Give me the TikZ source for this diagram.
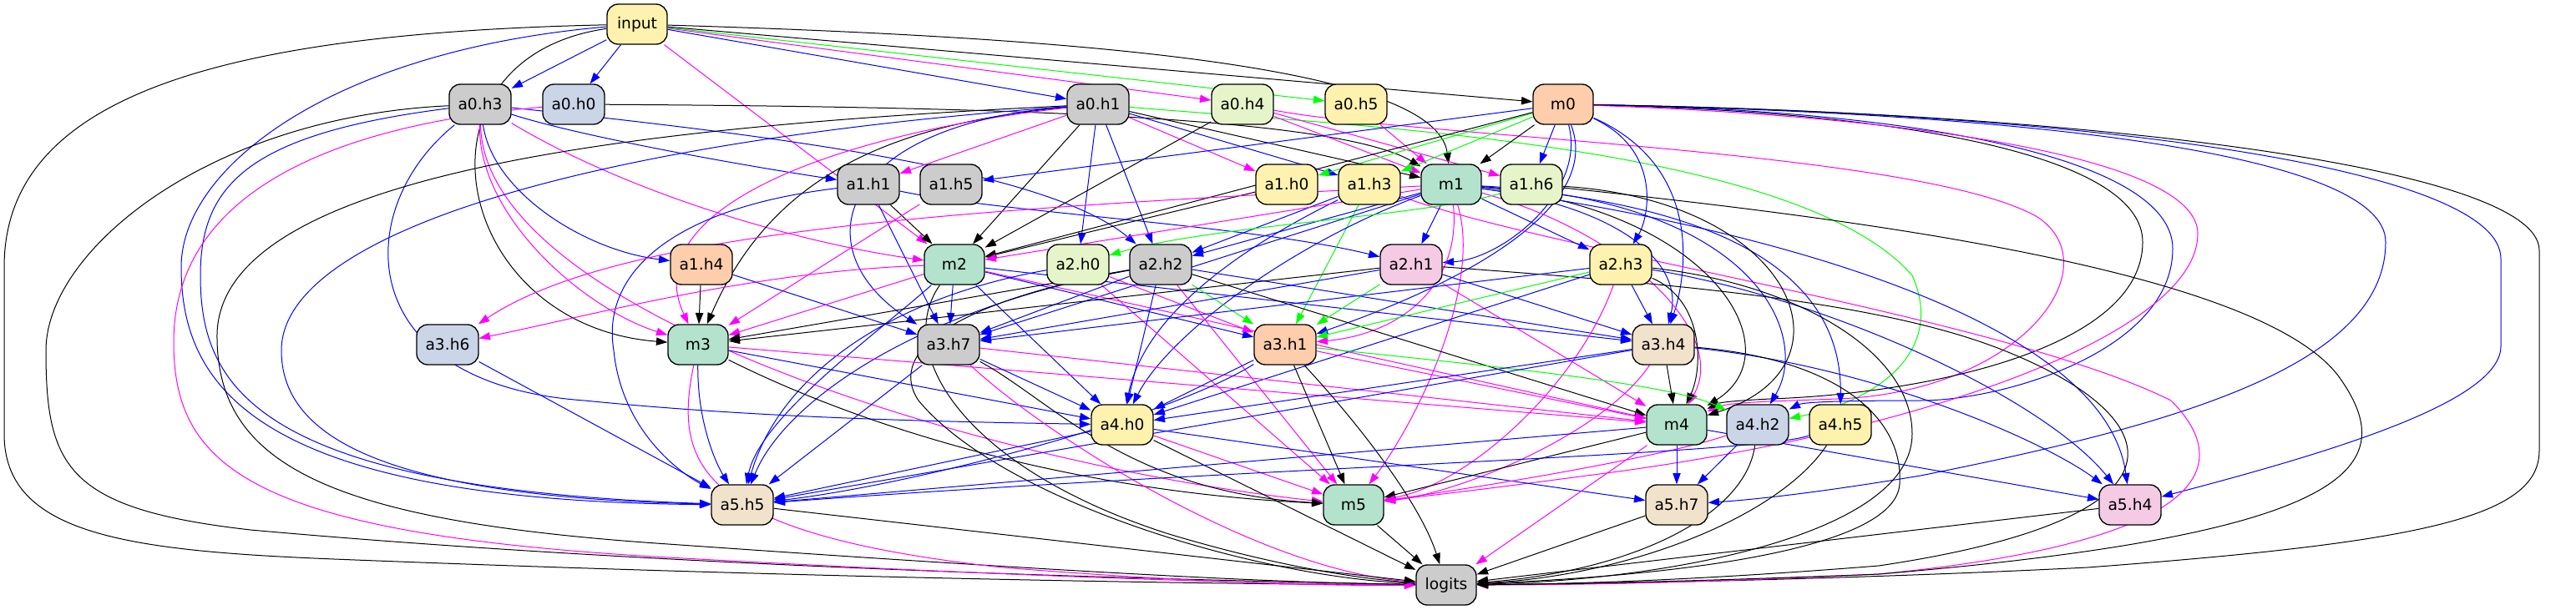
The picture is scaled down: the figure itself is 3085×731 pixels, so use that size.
\documentclass[tikz,border=0pt]{standalone}
\usepackage{fontspec}
\setmainfont{DejaVu Sans}
\usetikzlibrary{arrows.meta}
\pgfdeclarelayer{bg}
\pgfsetlayers{bg,main}
\definecolor{cgrey}{HTML}{CCCCCC}
\definecolor{cgreen}{HTML}{B3E2CD}
\definecolor{corange}{HTML}{FDCDAC}
\definecolor{cblue}{HTML}{CBD5E8}
\definecolor{cpink}{HTML}{F4CAE4}
\definecolor{clgreen}{HTML}{E6F5C9}
\definecolor{cyellow}{HTML}{FFF2AE}
\definecolor{cbeige}{HTML}{F1E2CC}
\definecolor{eblue}{HTML}{0000FF}
\definecolor{emag}{HTML}{FF00FF}
\definecolor{egreen}{HTML}{00FF00}
\tikzset{
  nd/.style={draw=black, line width=1pt, rounded corners=10pt, minimum width=54pt,
    minimum height=36pt, inner xsep=7.9pt, inner ysep=0pt, font=\fontsize{14}{16}\selectfont},
  edge/.style={line width=0.75pt, -{Triangle[length=10pt,width=7pt]}},
  ek/.style={edge, draw=black},
  eb/.style={edge, draw=eblue},
  em/.style={edge, draw=emag},
  eg/.style={edge, draw=egreen},
}
\begin{document}
\begin{tikzpicture}[x=0.75pt,y=-0.75pt]
\useasboundingbox (0,0) rectangle (3085,731);
% nodes
\node[nd, fill=cyellow] (input) at (763,29) {input};
\node[nd, fill=cgrey] (a03) at (575,125) {a0.h3};
\node[nd, fill=cblue] (a00) at (687,125) {a0.h0};
\node[nd, fill=cgrey] (a01) at (1315,125) {a0.h1};
\node[nd, fill=clgreen] (a04) at (1488,125) {a0.h4};
\node[nd, fill=cyellow] (a05) at (1624,125) {a0.h5};
\node[nd, fill=corange] (m0) at (1872,125) {m0};
\node[nd, fill=cgrey] (a11) at (1040,221) {a1.h1};
\node[nd, fill=cgrey] (a15) at (1139,221) {a1.h5};
\node[nd, fill=cyellow] (a10) at (1541,221) {a1.h0};
\node[nd, fill=cyellow] (a13) at (1640,221) {a1.h3};
\node[nd, fill=cgreen] (m1) at (1738,221) {m1};
\node[nd, fill=clgreen] (a16) at (1834,221) {a1.h6};
\node[nd, fill=corange] (a14) at (840,317) {a1.h4};
\node[nd, fill=cgreen] (m2) at (1143,317) {m2};
\node[nd, fill=clgreen] (a20) at (1291,317) {a2.h0};
\node[nd, fill=cgrey] (a22) at (1390,317) {a2.h2};
\node[nd, fill=cpink] (a21) at (1690,317) {a2.h1};
\node[nd, fill=cyellow] (a23) at (1941,317) {a2.h3};
\node[nd, fill=cblue] (a36) at (536,413) {a3.h6};
\node[nd, fill=cgreen] (m3) at (836,413) {m3};
\node[nd, fill=cgrey] (a37) at (1136,413) {a3.h7};
\node[nd, fill=corange] (a31) at (1539,413) {a3.h1};
\node[nd, fill=cbeige] (a34) at (1992,413) {a3.h4};
\node[nd, fill=cyellow] (a40) at (1344,509) {a4.h0};
\node[nd, fill=cgreen] (m4) at (2008,509) {m4};
\node[nd, fill=cblue] (a42) at (2105,509) {a4.h2};
\node[nd, fill=cyellow] (a45) at (2204,509) {a4.h5};
\node[nd, fill=cbeige] (a55) at (889,605) {a5.h5};
\node[nd, fill=cgreen] (m5) at (1621,605) {m5};
\node[nd, fill=cbeige] (a57) at (2008,605) {a5.h7};
\node[nd, fill=cpink] (a54) at (2551,605) {a5.h4};
\node[nd, fill=cgrey] (logits) at (1732,701) {logits};

\begin{pgfonlayer}{bg}
\fill[white] (0,0) rectangle (3085,731);
% input
\draw[eb] (input) -- (a03);
\draw[eb] (input) -- (a00);
\draw[eb] (input) -- (a01);
\draw[em] (input) -- (a04);
\draw[eg] (input) -- (a05);
\draw[ek] (input) -- (m0);
\draw[ek] (input) .. controls (1300,45) and (1720,80) .. (m1);
\draw[em] (input) -- (m2);
\draw[ek] (input) .. controls (480,70) and (540,390) .. (m3);
\draw[eb] (input) .. controls (400,60) and (217,200) .. (217,320) .. controls (217,460) and (300,600) .. (a55);
\draw[ek] (input) .. controls (250,40) and (5,120) .. (5,320) -- (5,520) .. controls (5,640) and (150,660) .. (400,670) .. controls (900,690) and (1400,700) .. (logits);
% a0.h3
\draw[eb] (a03) .. controls (700,165) and (900,200) .. (a11);
\draw[eb] (a03) .. controls (590,230) and (700,300) .. (a14);
\draw[eb] (a03) .. controls (900,160) and (1250,200) .. (a22);
\draw[em] (a03) .. controls (750,230) and (950,290) .. (m2);
\draw[em] (a03) .. controls (572,260) and (700,370) .. (m3);
\draw[em] (a03) .. controls (580,380) and (1200,560) .. (m5);
\draw[eb] (a03) .. controls (420,250) and (420,460) .. (700,480) .. controls (900,500) and (1100,505) .. (a40);
\draw[eb] (a03) .. controls (300,160) and (240,220) .. (240,330) .. controls (240,460) and (300,585) .. (a55);
\draw[ek] (a03) .. controls (250,140) and (55,300) .. (55,420) .. controls (55,560) and (80,610) .. (300,635) .. controls (800,680) and (1400,695) .. (logits);
% a0.h0
\draw[ek] (a00) .. controls (1200,128) and (1600,140) .. (m1);
\draw[em] (a00) .. controls (400,150) and (208,230) .. (208,410) .. controls (208,560) and (300,640) .. (800,668) .. controls (1200,690) and (1500,700) .. (logits);
% a0.h1
\draw[em] (a01) -- (a11);
\draw[em] (a01) -- (a10);
\draw[eb] (a01) -- (a13);
\draw[ek] (a01) -- (m2);
\draw[eb] (a01) -- (a20);
\draw[eb] (a01) -- (a22);
\draw[ek] (a01) -- (m1);
\draw[ek] (a01) .. controls (1050,150) and (920,220) .. (m3);
\draw[em] (a01) .. controls (1000,160) and (760,250) .. (m3);
\draw[eb] (a01) .. controls (1000,150) and (960,300) .. (a37);
\draw[eg] (a01) .. controls (1600,150) and (2150,170) .. (2290,330) .. controls (2330,420) and (2250,480) .. (a42);
\draw[ek] (a01) .. controls (800,150) and (265,200) .. (260,400) .. controls (258,560) and (400,625) .. (800,652) .. controls (1200,680) and (1500,698) .. (logits);
\draw[eb] (a01) .. controls (700,170) and (337,280) .. (337,420) .. controls (337,520) and (450,595) .. (a55);
% a0.h4, a0.h5
\draw[em] (a04) -- (m1);
\draw[em] (a04) -- (a16);
\draw[ek] (a04) -- (m2);
\draw[em] (a04) .. controls (1700,165) and (2300,180) .. (2440,260) .. controls (2530,320) and (2420,470) .. (2200,478) .. controls (2120,481) and (2070,482) .. (m4);
\draw[em] (a05) -- (m1);
% m0
\draw[ek] (m0) -- (m1);
\draw[eb] (m0) -- (a16);
\draw[eg] (m0) -- (a10);
\draw[eg] (m0) -- (a13);
\draw[eb] (m0) -- (a15);
\draw[ek] (m0) -- (m2);
\draw[eb] (m0) .. controls (1900,230) and (1800,310) .. (a21);
\draw[eb] (m0) .. controls (1990,180) and (1975,260) .. (a23);
\draw[eb] (m0) .. controls (1920,250) and (1750,340) .. (a31);
\draw[eb] (m0) .. controls (2040,200) and (2020,330) .. (a34);
\draw[ek] (m0) .. controls (2300,135) and (2566,190) .. (2566,290) .. controls (2566,420) and (2300,472) .. (2120,478) .. controls (2080,480) and (2060,482) .. (m4);
\draw[eb] (m0) .. controls (2300,132) and (2602,190) .. (2602,298) .. controls (2602,420) and (2400,480) .. (2300,480) .. controls (2200,480) and (2160,482) .. (a42);
\draw[eb] (m0) .. controls (2400,135) and (2857,180) .. (2857,290) .. controls (2857,440) and (2600,510) .. (2300,570) .. controls (2150,595) and (2080,600) .. (a57);
\draw[eb] (m0) .. controls (2500,135) and (2995,200) .. (2995,310) -- (2995,415) .. controls (2995,480) and (2800,540) .. (a54);
\draw[em] (m0) .. controls (2300,140) and (2632,190) .. (2632,280) .. controls (2632,400) and (2300,520) .. (1900,570) .. controls (1750,590) and (1700,595) .. (m5);
\draw[ek] (m0) .. controls (2500,135) and (3041,200) .. (3041,300) -- (3041,540) .. controls (3041,620) and (2900,650) .. (2500,680) .. controls (2200,695) and (1900,700) .. (logits);
% row 2
\draw[ek] (a11) -- (m2);
\draw[eb] (a11) .. controls (1200,255) and (1500,270) .. (a21);
\draw[eb] (a11) -- (a37);
\draw[eb] (a11) .. controls (800,250) and (720,330) .. (735,420) .. controls (745,520) and (820,570) .. (a55);
\draw[em] (a15) -- (m3);
\draw[ek] (a10) -- (m2);
\draw[eb] (a13) -- (a22);
\draw[eg] (a13) -- (a31);
\draw[eb] (a13) .. controls (1480,300) and (1370,380) .. (a40);
\draw[em] (a13) .. controls (1850,300) and (2400,380) .. (2600,480) .. controls (2680,560) and (2640,650) .. (2250,688) .. controls (2000,700) and (1850,701) .. (logits);
% m1
\draw[eb] (m1) -- (a21);
\draw[eb] (m1) -- (a23);
\draw[eb] (m1) -- (a22);
\draw[em] (m1) -- (m2);
\draw[em] (m1) .. controls (1200,250) and (750,270) .. (a36);
\draw[eb] (m1) -- (a37);
\draw[em] (m1) .. controls (1750,340) and (1680,400) .. (a31);
\draw[eb] (m1) .. controls (1950,250) and (2015,320) .. (a34);
\draw[eb] (m1) .. controls (1550,290) and (1400,400) .. (a40);
\draw[ek] (m1) .. controls (2050,250) and (2150,420) .. (m4);
\draw[em] (m1) .. controls (1950,280) and (2070,400) .. (m4);
\draw[eb] (m1) .. controls (2100,240) and (2170,400) .. (a42);
\draw[eb] (m1) .. controls (2150,250) and (2205,380) .. (a45);
\draw[em] (m1) .. controls (1775,340) and (1700,500) .. (m5);
\draw[eb] (m1) .. controls (2100,270) and (2520,380) .. (a54);
% a1.h6
\draw[eg] (a16) .. controls (1700,260) and (1450,270) .. (a20);
\draw[ek] (a16) .. controls (2150,240) and (2230,440) .. (m4);
\draw[ek] (a16) .. controls (2200,260) and (2700,320) .. (2800,450) .. controls (2880,560) and (2820,640) .. (2250,688) .. controls (2000,698) and (1850,700) .. (logits);
% row 3
\draw[ek] (a14) -- (m3);
\draw[eb] (a14) -- (a37);
\draw[eb] (m2) -- (a37);
\draw[eb] (m2) -- (a31);
\draw[eb] (m2) -- (a34);
\draw[eb] (m2) -- (a40);
\draw[em] (m2) -- (m4);
\draw[eb] (m2) .. controls (1050,400) and (910,500) .. (a55);
\draw[ek] (m2) .. controls (1070,420) and (1150,560) .. (1400,640) .. controls (1550,685) and (1650,695) .. (logits);
\draw[em] (m2) .. controls (900,325) and (700,380) .. (a36);
\draw[em] (m2) -- (m3);
\draw[em] (a20) -- (a31);
\draw[eb] (a20) .. controls (1050,360) and (930,460) .. (a55);
\draw[em] (a20) -- (m5);
\draw[eg] (a22) -- (a31);
\draw[ek] (a22) -- (m3);
\draw[eb] (a22) -- (a34);
\draw[ek] (a22) -- (m4);
\draw[eb] (a22) -- (a40);
\draw[eb] (a22) .. controls (1100,370) and (940,480) .. (a55);
\draw[em] (a22) -- (m5);
\draw[ek] (a22) .. controls (1150,360) and (1060,420) .. (1100,480) .. controls (1200,600) and (1500,690) .. (logits);
\draw[eb] (a22) -- (a37);
\draw[eg] (a21) -- (a31);
\draw[eb] (a21) -- (a37);
\draw[ek] (a21) -- (m3);
\draw[eb] (a21) -- (a34);
\draw[em] (a21) -- (m4);
\draw[ek] (a21) .. controls (2000,340) and (2250,360) .. (2400,420) .. controls (2600,500) and (2640,620) .. (2250,678) .. controls (2000,698) and (1850,700) .. (logits);
\draw[eb] (a23) -- (a34);
\draw[ek] (a23) .. controls (2040,360) and (2040,440) .. (m4);
\draw[eg] (a23) -- (a31);
\draw[eb] (a23) -- (a37);
\draw[eb] (a23) -- (a40);
\draw[em] (a23) .. controls (1890,460) and (1760,580) .. (m5);
\draw[eb] (a23) .. controls (2200,360) and (2450,480) .. (a54);
\draw[ek] (a23) .. controls (2150,340) and (2290,420) .. (2290,520) .. controls (2290,640) and (2000,695) .. (logits);
% row 4
\draw[eb] (a36) -- (a55);
\draw[eb] (m3) -- (a40);
\draw[em] (m3) -- (m4);
\draw[eb] (m3) .. controls (835,510) and (860,560) .. (a55);
\draw[ek] (m3) .. controls (1050,520) and (1300,590) .. (m5);
\draw[em] (m3) .. controls (805,560) and (840,640) .. (1200,680) .. controls (1450,700) and (1600,702) .. (logits);
\draw[eb] (a37) -- (a40);
\draw[em] (a37) -- (m4);
\draw[eb] (a37) -- (a55);
\draw[ek] (a37) .. controls (1260,480) and (1350,590) .. (m5);
\draw[em] (a37) .. controls (1250,520) and (1500,680) .. (logits);
\draw[eb] (a31) -- (a40);
\draw[em] (a31) -- (m4);
\draw[eg] (a31) .. controls (1800,440) and (2000,460) .. (a42);
\draw[eb] (a31) .. controls (1400,500) and (1100,580) .. (a55);
\draw[ek] (a31) -- (m5);
\draw[ek] (a31) .. controls (1620,500) and (1700,600) .. (logits);
\draw[ek] (a34) -- (m4);
\draw[eb] (a34) -- (a40);
\draw[eb] (a34) -- (a55);
\draw[em] (a34) .. controls (1920,520) and (1750,590) .. (m5);
\draw[eb] (a34) .. controls (2250,440) and (2450,530) .. (a54);
\draw[ek] (a34) .. controls (2200,430) and (2280,500) .. (2275,580) .. controls (2270,660) and (2000,690) .. (logits);
% row 5
\draw[eb] (a40) -- (a55);
\draw[em] (a40) -- (m5);
\draw[eb] (a40) -- (a57);
\draw[ek] (a40) -- (logits);
\draw[eb] (m4) -- (a57);
\draw[eb] (m4) -- (a55);
\draw[ek] (m4) -- (m5);
\draw[eb] (m4) -- (a54);
\draw[em] (m4) -- (logits);
\draw[eb] (a42) -- (a57);
\draw[em] (a42) .. controls (2000,545) and (1800,580) .. (m5);
\draw[ek] (a42) .. controls (2090,620) and (1950,685) .. (logits);
\draw[eb] (a45) .. controls (2100,545) and (1500,560) .. (a55);
\draw[ek] (a45) .. controls (2130,620) and (1950,690) .. (logits);
% row 6
\draw[ek] (a55) -- (logits);
\draw[ek] (m5) -- (logits);
\draw[ek] (a57) -- (logits);
\draw[ek] (a54) -- (logits);
\end{pgfonlayer}
\end{tikzpicture}
\end{document}
